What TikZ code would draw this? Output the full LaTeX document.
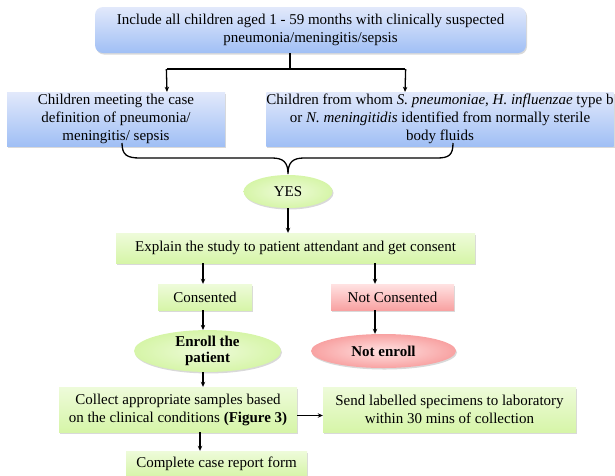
\documentclass[tikz,border=0pt]{standalone}
\usepackage{fontspec}
\setmainfont{Liberation Serif}
\usetikzlibrary{shapes.geometric,arrows.meta,shadows}
\definecolor{bluetop}{RGB}{226,233,251}
\definecolor{bluebot}{RGB}{160,191,245}
\definecolor{greentop}{RGB}{238,251,218}
\definecolor{greenbot}{RGB}{214,245,168}
\definecolor{redtop}{RGB}{255,226,226}
\definecolor{redbot}{RGB}{248,162,162}
\begin{document}
\begin{tikzpicture}[x=1pt,y=-1pt,
  every node/.style={font=\fontsize{15}{18}\selectfont, align=center, inner sep=0pt},
  shad/.style={drop shadow={shadow xshift=1pt,shadow yshift=-1.5pt,opacity=0.25,fill=black!60}},
  bluebox/.style={rectangle, top color=bluetop, bottom color=bluebot, shad},
  greenbox/.style={rectangle, top color=greentop, bottom color=greenbot, shad},
  redbox/.style={rectangle, top color=redtop, bottom color=redbot, shad},
  greenell/.style={ellipse, inner color=greentop, outer color=greenbot, shad},
  redell/.style={ellipse, inner color=redtop, outer color=redbot, shad},
  conn/.style={line width=1.3pt, black},
  arr/.style={conn, -{Stealth[length=5pt,width=4.5pt]}}
]
\useasboundingbox (0,0) rectangle (615,475);

\node[bluebox, rounded corners=8pt, minimum width=431pt, minimum height=46pt] (top) at (310.5,30)
  {Include all children aged 1 - 59 months with clinically suspected\\pneumonia/meningitis/sepsis};
\node[bluebox, minimum width=218pt, minimum height=54pt] (left) at (116,119)
  {Children meeting the case\\definition of pneumonia/\\meningitis/ sepsis};
\node[bluebox, minimum width=347pt, minimum height=54pt] (right) at (440,119)
  {Children from whom \textit{S. pneumoniae}, \textit{H. influenzae} type b\\or \textit{N. meningitidis} identified from normally sterile\\body fluids};

\node[greenell, minimum width=89pt, minimum height=33pt] (yes) at (288,191.5) {YES};
\node[greenbox, minimum width=359pt, minimum height=30pt] (explain) at (295.5,248)
  {Explain the study to patient attendant and get consent};
\node[greenbox, minimum width=94pt, minimum height=26pt] (cons) at (205,297) {Consented};
\node[redbox, minimum width=123pt, minimum height=26pt] (ncons) at (392.5,297) {Not Consented};
\node[greenell, minimum width=147pt, minimum height=34pt] (enroll) at (207.5,351)
  {\textbf{Enroll the}\\[-2pt]\textbf{patient}};
\node[redell, minimum width=145pt, minimum height=34pt] (nenroll) at (383.5,351) {\textbf{Not enroll}};
\node[greenbox, minimum width=238pt, minimum height=45pt] (collect) at (178,409.5)
  {Collect appropriate samples based\\on the clinical conditions \textbf{(Figure 3)}};
\node[greenbox, minimum width=253pt, minimum height=45pt] (send) at (449.5,409.5)
  {Send labelled specimens to laboratory\\within 30 mins of collection};
\node[greenbox, minimum width=181pt, minimum height=26pt] (complete) at (216.5,464)
  {Complete case report form};

% split from top box
\coordinate (ts) at (290,69);
\coordinate (la) at (167,69);
\coordinate (ra) at (405,69);
\draw[conn] (ts |- top.south) -- (ts);
\draw[conn] (la) -- (ra);
\draw[arr] ([xshift=-0.65pt]la) -- (la |- left.north);
\draw[arr] ([xshift=0.65pt]ra) -- (ra |- right.north);

% brace
\coordinate (bl) at (122,143);
\coordinate (br) at (453,143);
\coordinate (bt) at (288,174);
\draw[conn] (bl) .. controls (122,155) and (127,158) .. (140,158) -- (272,158)
  .. controls (283,158) and (288,162) .. (bt)
  .. controls (288,162) and (293,158) .. (304,158) -- (437,158)
  .. controls (449,158) and (453,155) .. (br);

% flow
\coordinate (ya) at (288,0);
\draw[arr] (ya |- yes.south) -- (ya |- explain.north);
\coordinate (ca) at (203,0);
\coordinate (na) at (375,0);
\draw[arr] (ca |- explain.south) -- (ca |- cons.north);
\draw[arr] (na |- explain.south) -- (na |- ncons.north);
\draw[arr] (ca |- cons.south) -- (ca |- enroll.north);
\draw[arr] (na |- ncons.south) -- (na |- nenroll.north);
\draw[arr] (ca |- enroll.south) -- (ca |- collect.north);
\draw[arr] ([yshift=-6pt]collect.east) -- ([yshift=-6pt]send.west);
\coordinate (pa) at (200,0);
\draw[arr] (pa |- collect.south) -- (pa |- complete.north);
\end{tikzpicture}
\end{document}
